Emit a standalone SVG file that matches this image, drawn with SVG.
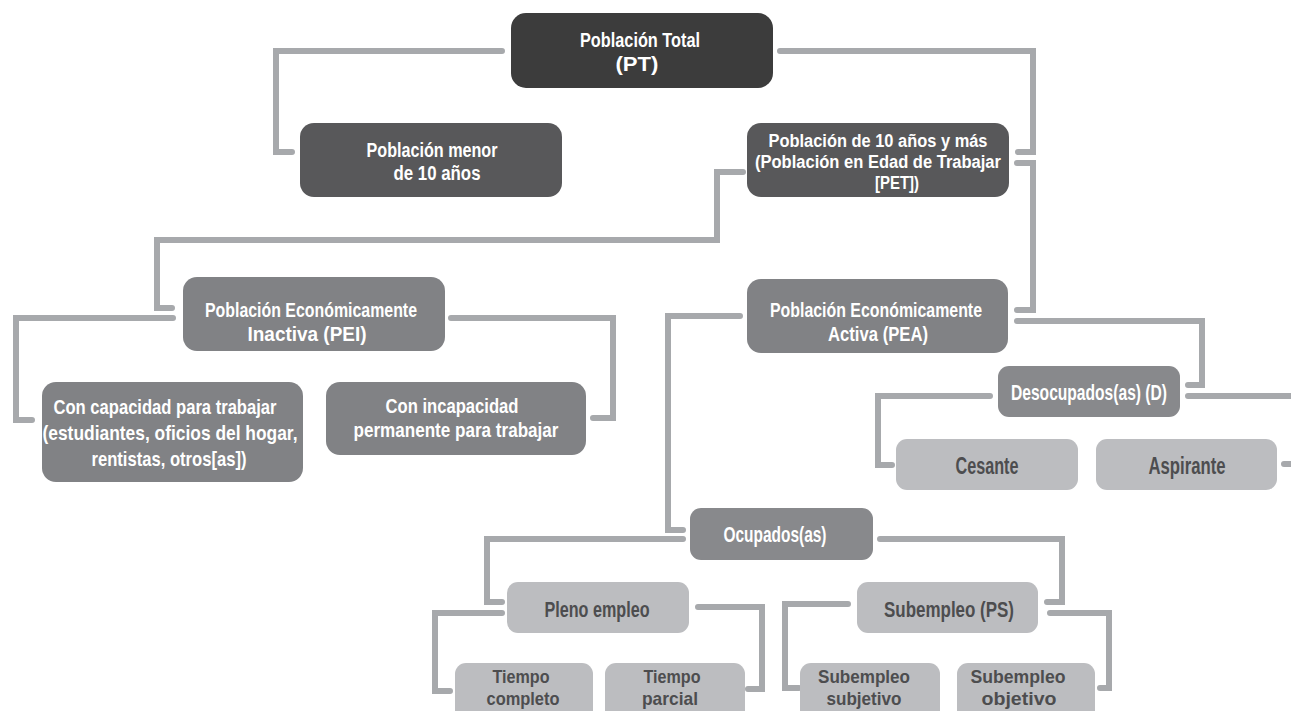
<svg xmlns="http://www.w3.org/2000/svg" width="1291" height="711" viewBox="0 0 1291 711">
<style>
.c{fill:none;stroke:#a7a9ac;stroke-width:6;stroke-linecap:round;stroke-linejoin:miter}
.t{font-family:"Liberation Sans",Arial,sans-serif;font-weight:bold;text-anchor:middle;fill:#ffffff}
.d{fill:#4d4d4f}
.k1{fill:#3c3c3c}
.k2{fill:#58585a}
.k3{fill:#818285}
.k4{fill:#88898c}
.k5{fill:#bcbdc0}
</style>
<rect width="1291" height="711" fill="#ffffff"/>
<g id="connectors">
<path class="c" d="M502,51 H276 V152 H292"/>
<path class="c" d="M780,51 H1033 V152 H1018"/>
<path class="c" d="M743,172 H717 V240 H157 V308 H172"/>
<path class="c" d="M1017,163 H1033 V310 H1017"/>
<path class="c" d="M173,318 H16 V420 H32"/>
<path class="c" d="M451,318 H613 V418 H593"/>
<path class="c" d="M740,316 H668 V530 H683"/>
<path class="c" d="M1017,321 H1202 V385 H1188"/>
<path class="c" d="M990,396 H878 V465 H892"/>
<path class="c" d="M1188,396 H1300 V464 H1284"/>
<path class="c" d="M683,539 H487 V602 H502"/>
<path class="c" d="M880,539 H1062 V602 H1047"/>
<path class="c" d="M502,613 H435 V691 H450"/>
<path class="c" d="M698,607 H762 V689 H748"/>
<path class="c" d="M848,604 H785 V688 H799"/>
<path class="c" d="M1050,613 H1109 V688 H1100"/>
</g>
<g id="pt">
<rect class="k1" x="511" y="13" width="262" height="75" rx="15"/>
<text class="t" font-size="20" x="640" y="47" textLength="120" lengthAdjust="spacingAndGlyphs">Población Total</text>
<text class="t" font-size="20" x="637" y="71" textLength="43" lengthAdjust="spacingAndGlyphs">(PT)</text>
</g>
<g id="menor">
<rect class="k2" x="300" y="123" width="262" height="74" rx="14"/>
<text class="t" font-size="20" x="432" y="157" textLength="131" lengthAdjust="spacingAndGlyphs">Población menor</text>
<text class="t" font-size="20" x="437" y="180" textLength="87" lengthAdjust="spacingAndGlyphs">de 10 años</text>
</g>
<g id="pet">
<rect class="k2" x="747" y="123" width="262" height="74" rx="14"/>
<text class="t" font-size="18" x="878" y="147" textLength="219" lengthAdjust="spacingAndGlyphs">Población de 10 años y más</text>
<text class="t" font-size="18" x="878" y="168" textLength="246" lengthAdjust="spacingAndGlyphs">(Población en Edad de Trabajar</text>
<text class="t" font-size="18" x="897" y="189" textLength="44" lengthAdjust="spacingAndGlyphs">[PET])</text>
</g>
<g id="pei">
<rect class="k3" x="183" y="277" width="262" height="74" rx="14"/>
<text class="t" font-size="21" x="311" y="317" textLength="212" lengthAdjust="spacingAndGlyphs">Población Económicamente</text>
<text class="t" font-size="21" x="307" y="341" textLength="119" lengthAdjust="spacingAndGlyphs">Inactiva (PEI)</text>
</g>
<g id="pea">
<rect class="k3" x="747" y="279" width="261" height="74" rx="14"/>
<text class="t" font-size="21" x="876" y="317" textLength="212" lengthAdjust="spacingAndGlyphs">Población Económicamente</text>
<text class="t" font-size="21" x="878" y="341" textLength="100" lengthAdjust="spacingAndGlyphs">Activa (PEA)</text>
</g>
<g id="capacidad">
<rect class="k3" x="42" y="382" width="261" height="100" rx="14"/>
<text class="t" font-size="21" x="165" y="414" textLength="223" lengthAdjust="spacingAndGlyphs">Con capacidad para trabajar</text>
<text class="t" font-size="21" x="170" y="440" textLength="255" lengthAdjust="spacingAndGlyphs">(estudiantes, oficios del hogar,</text>
<text class="t" font-size="21" x="169" y="466" textLength="155" lengthAdjust="spacingAndGlyphs">rentistas, otros[as])</text>
</g>
<g id="incapacidad">
<rect class="k3" x="326" y="382" width="260" height="73" rx="14"/>
<text class="t" font-size="21" x="452" y="413" textLength="133" lengthAdjust="spacingAndGlyphs">Con incapacidad</text>
<text class="t" font-size="21" x="456" y="437" textLength="205" lengthAdjust="spacingAndGlyphs">permanente para trabajar</text>
</g>
<g id="desocupados">
<rect class="k4" x="998" y="366" width="182" height="51" rx="11"/>
<text class="t" font-size="22" x="1089" y="400" textLength="156" lengthAdjust="spacingAndGlyphs">Desocupados(as) (D)</text>
</g>
<g id="cesante">
<rect class="k5" x="896" y="439" width="182" height="51" rx="11"/>
<text class="t d" font-size="23" x="987" y="474" textLength="63" lengthAdjust="spacingAndGlyphs">Cesante</text>
</g>
<g id="aspirante">
<rect class="k5" x="1096" y="439" width="181" height="51" rx="11"/>
<text class="t d" font-size="23" x="1187" y="474" textLength="77" lengthAdjust="spacingAndGlyphs">Aspirante</text>
</g>
<g id="ocupados">
<rect class="k4" x="690" y="508" width="183" height="52" rx="11"/>
<text class="t" font-size="22" x="775" y="542" textLength="103" lengthAdjust="spacingAndGlyphs">Ocupados(as)</text>
</g>
<g id="pleno">
<rect class="k5" x="507" y="582" width="182" height="51" rx="11"/>
<text class="t d" font-size="22" x="597" y="617" textLength="105" lengthAdjust="spacingAndGlyphs">Pleno empleo</text>
</g>
<g id="subempleo">
<rect class="k5" x="857" y="582" width="181" height="51" rx="11"/>
<text class="t d" font-size="22" x="949" y="617" textLength="130" lengthAdjust="spacingAndGlyphs">Subempleo (PS)</text>
</g>
<g id="completo">
<rect class="k5" x="455" y="663" width="138" height="62" rx="11"/>
<text class="t d" font-size="19" x="521" y="683" textLength="57" lengthAdjust="spacingAndGlyphs">Tiempo</text>
<text class="t d" font-size="19" x="523" y="705" textLength="73" lengthAdjust="spacingAndGlyphs">completo</text>
</g>
<g id="parcial">
<rect class="k5" x="605" y="663" width="140" height="62" rx="11"/>
<text class="t d" font-size="19" x="672" y="683" textLength="57" lengthAdjust="spacingAndGlyphs">Tiempo</text>
<text class="t d" font-size="19" x="670" y="705" textLength="56" lengthAdjust="spacingAndGlyphs">parcial</text>
</g>
<g id="subjetivo">
<rect class="k5" x="800" y="663" width="140" height="62" rx="11"/>
<text class="t d" font-size="19" x="864" y="683" textLength="92" lengthAdjust="spacingAndGlyphs">Subempleo</text>
<text class="t d" font-size="19" x="864" y="705" textLength="75" lengthAdjust="spacingAndGlyphs">subjetivo</text>
</g>
<g id="objetivo">
<rect class="k5" x="957" y="663" width="138" height="62" rx="11"/>
<text class="t d" font-size="19" x="1018" y="683" textLength="95" lengthAdjust="spacingAndGlyphs">Subempleo</text>
<text class="t d" font-size="19" x="1019" y="705" textLength="75" lengthAdjust="spacingAndGlyphs">objetivo</text>
</g>
</svg>
